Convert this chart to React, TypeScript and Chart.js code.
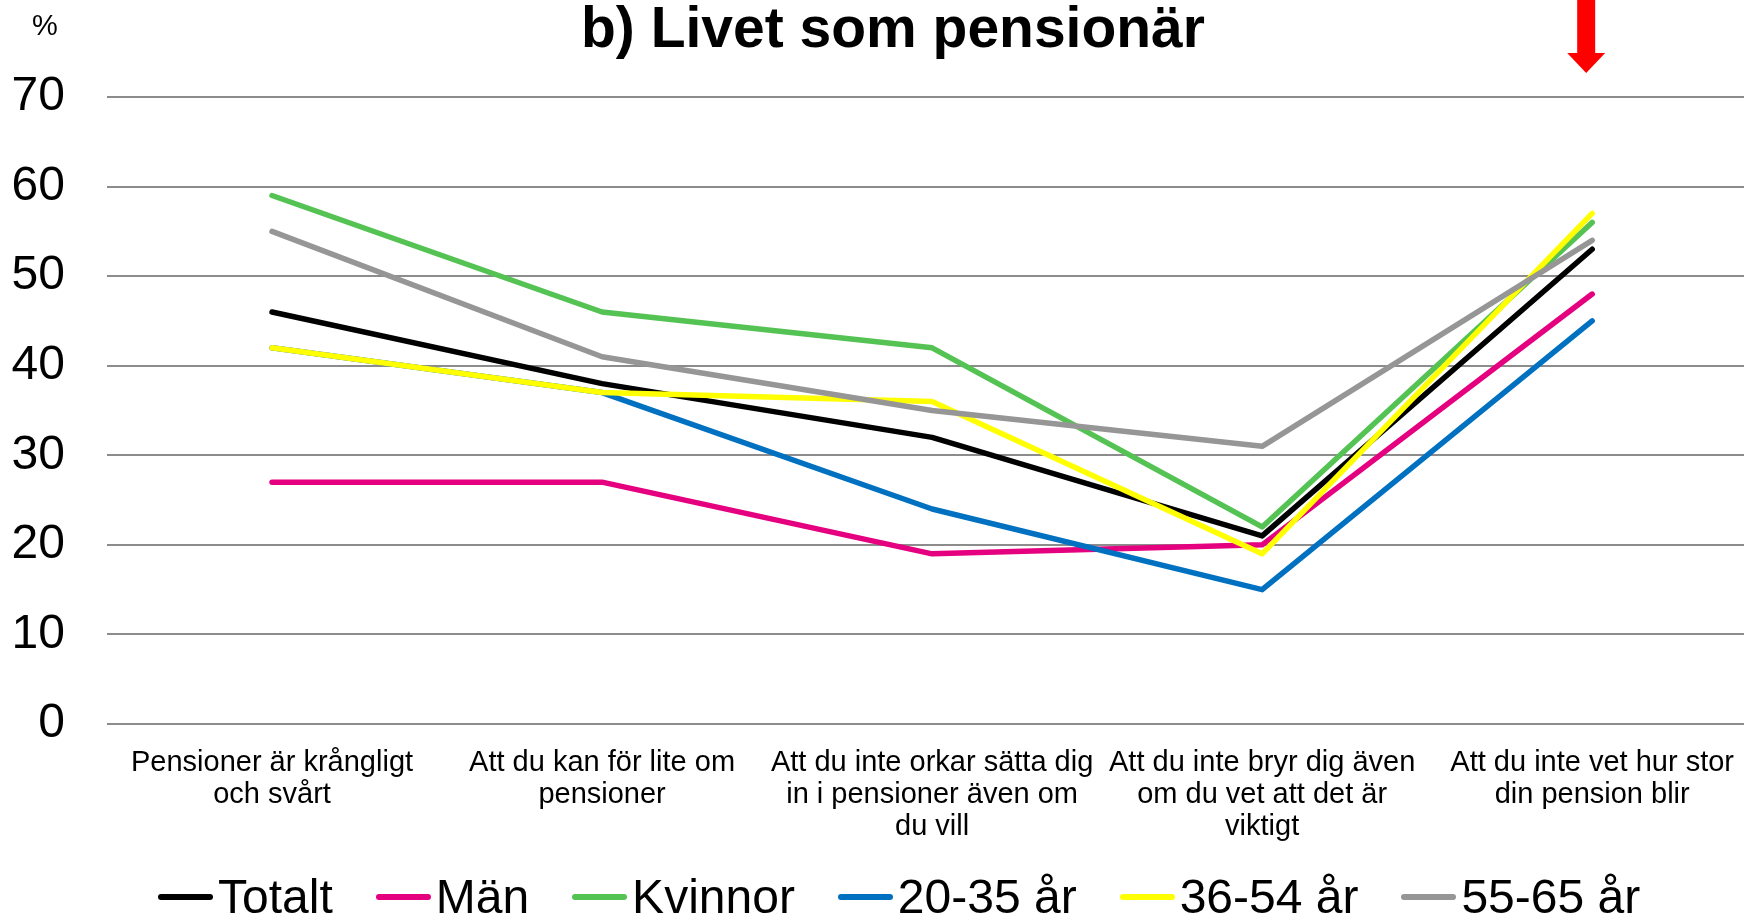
import React, { useEffect, useRef } from "react";
import { Chart, registerables } from "chart.js";

Chart.register(...registerables);

const titleText = "b) Livet som pensionär";
const unitLabel = "%";

const categories: string[][] = [
  ["Pensioner är krångligt", "och svårt"],
  ["Att du kan för lite om", "pensioner"],
  ["Att du inte orkar sätta dig", "in i pensioner även om", "du vill"],
  ["Att du inte bryr dig även", "om du vet att det är", "viktigt"],
  ["Att du inte vet hur stor", "din pension blir"],
];

const seriesNames = ["Totalt", "Män", "Kvinnor", "20-35 år", "36-54 år", "55-65 år"];
const seriesColors = ["#000000", "#e4007f", "#55c353", "#0070c0", "#ffff00", "#969696"];

const totalt = [46, 38, 32, 21, 53];
const man = [27, 27, 19, 20, 48];
const kvinnor = [59, 46, 42, 22, 56];
const age20_35 = [42, 37, 24, 15, 45];
const age36_54 = [42, 37, 36, 19, 57];
const age55_65 = [55, 41, 35, 31, 54];

const seriesValues = [totalt, man, kvinnor, age20_35, age36_54, age55_65];

const yTicks = [0, 10, 20, 30, 40, 50, 60, 70];

const FONT = "'Liberation Sans', Arial, sans-serif";

const overlayPlugin = {
  id: "overlay",
  afterDraw(chart: any) {
    const ctx = chart.ctx;
    ctx.save();
    ctx.fillStyle = "#000";
    ctx.font = `bold 57px ${FONT}`;
    ctx.textAlign = "center";
    ctx.textBaseline = "alphabetic";
    ctx.fillText(titleText, 893, 47);
    ctx.font = `29px ${FONT}`;
    ctx.fillText(unitLabel, 45, 35);
    // red arrow pointing at last category
    const ax = chart.scales.x.getPixelForValue(4) - 6;
    ctx.fillStyle = "#ff0000";
    ctx.fillRect(ax - 9, 0, 18, 54);
    ctx.beginPath();
    ctx.moveTo(ax - 19, 53);
    ctx.lineTo(ax + 19, 53);
    ctx.lineTo(ax, 73);
    ctx.closePath();
    ctx.fill();
    ctx.restore();
  },
};

export default function App() {
  const ref = useRef<HTMLCanvasElement | null>(null);

  useEffect(() => {
    if (!ref.current) return;
    const chart = new Chart(ref.current, {
      type: "line",
      data: {
        datasets: seriesNames.map((name, i) => ({
          label: name,
          data: seriesValues[i].map((v, j) => ({ x: j, y: v })),
          borderColor: seriesColors[i],
          backgroundColor: seriesColors[i],
          borderWidth: 5.5,
          pointRadius: 0,
          tension: 0,
          borderCapStyle: "round",
          borderJoinStyle: "round",
          order: seriesNames.length - i,
          fill: false,
        })),
      },
      options: {
        animation: false,
        responsive: false,
        maintainAspectRatio: false,
        layout: { padding: { top: 97, right: 0, bottom: 0, left: 0 } },
        plugins: {
          legend: { display: false },
          tooltip: { enabled: false },
          title: { display: false },
        },
        scales: {
          x: {
            type: "linear",
            min: -0.5,
            max: 4.46,
            grid: { display: false },
            border: { display: false },
            afterBuildTicks: (scale: any) => {
              scale.ticks = categories.map((_, i) => ({ value: i }));
            },
            afterFit: (scale: any) => {
              scale.height = 192;
              scale.paddingLeft = 0;
              scale.paddingRight = 0;
            },
            ticks: {
              autoSkip: false,
              maxRotation: 0,
              minRotation: 0,
              padding: 15,
              color: "#000",
              font: { family: FONT, size: 29, lineHeight: 1.1 },
              callback: (v: any) => categories[Math.round(Number(v))] ?? "",
            },
          },
          y: {
            min: 0,
            max: 70,
            afterBuildTicks: (scale: any) => {
              scale.ticks = yTicks.map((v) => ({ value: v }));
            },
            afterFit: (scale: any) => {
              scale.width = 107;
            },
            grid: { color: "#8c8c8c", lineWidth: 2, drawTicks: false },
            border: { display: false },
            ticks: {
              padding: 42,
              color: "#000",
              font: { family: FONT, size: 48 },
            },
          },
        },
      },
      plugins: [overlayPlugin],
    } as any);
    return () => chart.destroy();
  }, []);

  return (
    <div style={{ position: "fixed", left: 0, top: 0, width: 1744, height: 916, background: "#fff", overflow: "hidden" }}>
      <canvas ref={ref} width={1744} height={916} style={{ display: "block", width: 1744, height: 916 }} />
      <div
        style={{
          position: "absolute",
          left: 158,
          top: 873,
          display: "flex",
          alignItems: "center",
          whiteSpace: "nowrap",
          fontFamily: FONT,
          fontSize: 48,
          lineHeight: 1,
          color: "#000",
        }}
      >
        {seriesNames.map((name, i) => (
          <div key={name} style={{ display: "flex", alignItems: "center", marginRight: i < seriesNames.length - 1 ? 43 : 0 }}>
            <span style={{ display: "inline-block", width: 55, height: 6, borderRadius: 3, background: seriesColors[i], marginRight: 5 }} />
            <span>{name}</span>
          </div>
        ))}
      </div>
    </div>
  );
}
